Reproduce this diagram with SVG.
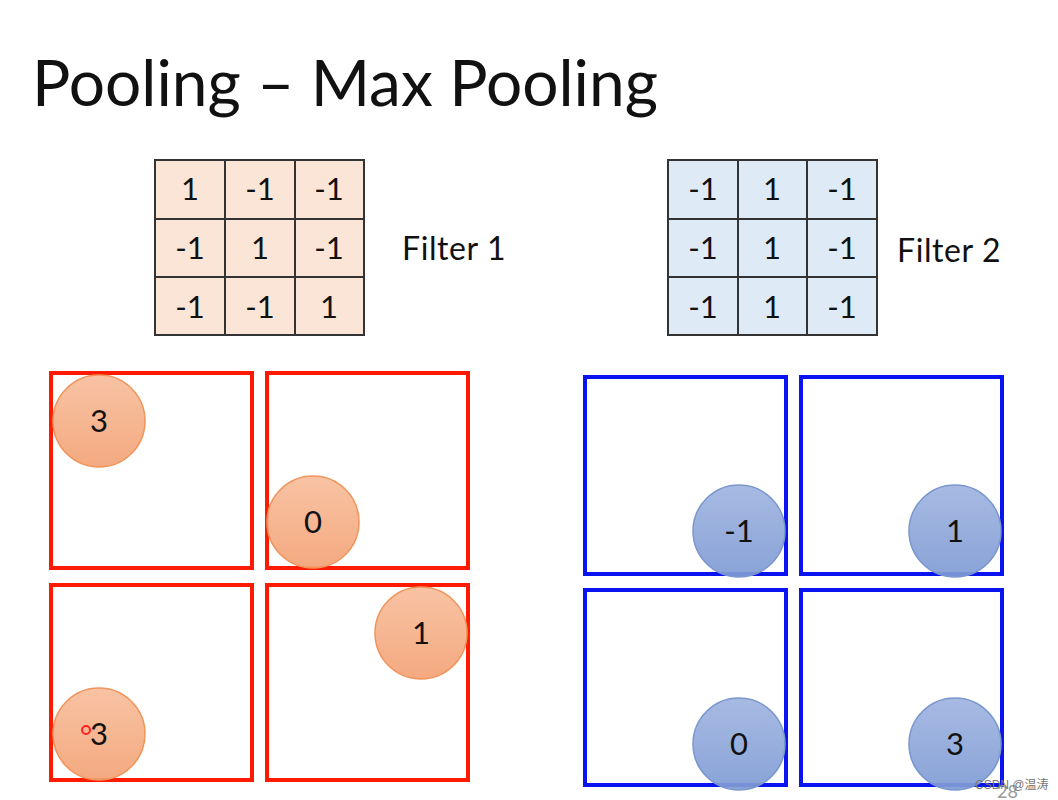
<svg xmlns="http://www.w3.org/2000/svg" width="1058" height="800" viewBox="0 0 1058 800">
<style>
text{font-family:Lato,"Open Sans","Liberation Sans",sans-serif;fill:#111}
.title{font-size:64px}
.cell{font-size:31px;text-anchor:middle}
.lbl{font-size:32px;letter-spacing:0.6px}
.grid line{stroke:#333;stroke-width:2}
.rbox{fill:none;stroke:#ff1a00;stroke-width:4}
.bbox{fill:none;stroke:#0a14f0;stroke-width:4}
.oc{fill:url(#og);stroke:#f0945a;stroke-width:1.5}
.bc{fill:url(#bg);stroke:#7a96cf;stroke-width:1.5}
.num{font-size:31px;text-anchor:middle}
</style>
<defs>
<linearGradient id="og" x1="0" y1="0" x2="0" y2="1"><stop offset="0" stop-color="#f7be9c" stop-opacity="0.92"/><stop offset="1" stop-color="#f3a275" stop-opacity="0.92"/></linearGradient>
<linearGradient id="bg" x1="0" y1="0" x2="0" y2="1"><stop offset="0" stop-color="#9fb4e0" stop-opacity="0.92"/><stop offset="1" stop-color="#7f9bd4" stop-opacity="0.92"/></linearGradient>
</defs>
<rect width="1058" height="800" fill="#fff"/>
<text class="title" x="32" y="106">Pooling – Max Pooling</text>

<g id="filter1">
<rect x="155" y="160" width="209" height="175" fill="#fbe5d6" stroke="#333" stroke-width="2"/>
<g class="grid"><line x1="225" y1="160" x2="225" y2="335"/><line x1="295" y1="160" x2="295" y2="335"/><line x1="155" y1="219" x2="364" y2="219"/><line x1="155" y1="277" x2="364" y2="277"/></g>
<text class="cell" x="190" y="200">1</text><text class="cell" x="260" y="200">-1</text><text class="cell" x="329" y="200">-1</text>
<text class="cell" x="190" y="259">-1</text><text class="cell" x="260" y="259">1</text><text class="cell" x="329" y="259">-1</text>
<text class="cell" x="190" y="318">-1</text><text class="cell" x="260" y="318">-1</text><text class="cell" x="329" y="318">1</text>
<text class="lbl" x="402" y="260">Filter 1</text>
</g>

<g id="filter2">
<rect x="668" y="160" width="209" height="175" fill="#deebf7" stroke="#333" stroke-width="2"/>
<g class="grid"><line x1="738" y1="160" x2="738" y2="335"/><line x1="807" y1="160" x2="807" y2="335"/><line x1="668" y1="219" x2="877" y2="219"/><line x1="668" y1="277" x2="877" y2="277"/></g>
<text class="cell" x="703" y="200">-1</text><text class="cell" x="772" y="200">1</text><text class="cell" x="842" y="200">-1</text>
<text class="cell" x="703" y="259">-1</text><text class="cell" x="772" y="259">1</text><text class="cell" x="842" y="259">-1</text>
<text class="cell" x="703" y="318">-1</text><text class="cell" x="772" y="318">1</text><text class="cell" x="842" y="318">-1</text>
<text class="lbl" x="897" y="262">Filter 2</text>
</g>

<g id="red-boxes">
<rect class="rbox" x="51" y="373" width="201" height="195"/>
<rect class="rbox" x="267" y="373" width="201" height="195"/>
<rect class="rbox" x="51" y="585" width="201" height="195"/>
<rect class="rbox" x="267" y="585" width="201" height="195"/>
</g>
<g id="blue-boxes">
<rect class="bbox" x="585" y="377" width="201" height="197"/>
<rect class="bbox" x="801" y="377" width="201" height="197"/>
<rect class="bbox" x="585" y="590" width="201" height="195"/>
<rect class="bbox" x="801" y="590" width="201" height="195"/>
</g>

<g id="r1"><circle class="oc" cx="99" cy="421" r="46"/><text class="num" x="99" y="432">3</text></g>
<g id="r2"><circle class="oc" cx="313" cy="522" r="46"/><text class="num" x="313" y="533">0</text></g>
<g id="r3"><circle class="oc" cx="99" cy="734" r="46"/><text class="num" x="99" y="745">3</text><circle cx="86" cy="730" r="4" fill="none" stroke="#ff2020" stroke-width="2"/></g>
<g id="r4"><circle class="oc" cx="421" cy="633" r="46"/><text class="num" x="421" y="644">1</text></g>

<g id="b1"><circle class="bc" cx="739" cy="531" r="46"/><text class="num" x="739" y="542">-1</text></g>
<g id="b2"><circle class="bc" cx="955" cy="531" r="46"/><text class="num" x="955" y="542">1</text></g>
<g id="b3"><circle class="bc" cx="739" cy="744" r="46"/><text class="num" x="739" y="755">0</text></g>
<g id="b4"><circle class="bc" cx="955" cy="744" r="46"/><text class="num" x="955" y="755">3</text></g>

<text x="997" y="798" style="font-size:18px;fill:#999">28</text>
<text x="975" y="789" style="font-size:12px;fill:#777;font-family:'Liberation Sans','Noto Sans CJK SC',sans-serif">CSDN @温涛</text>
</svg>
